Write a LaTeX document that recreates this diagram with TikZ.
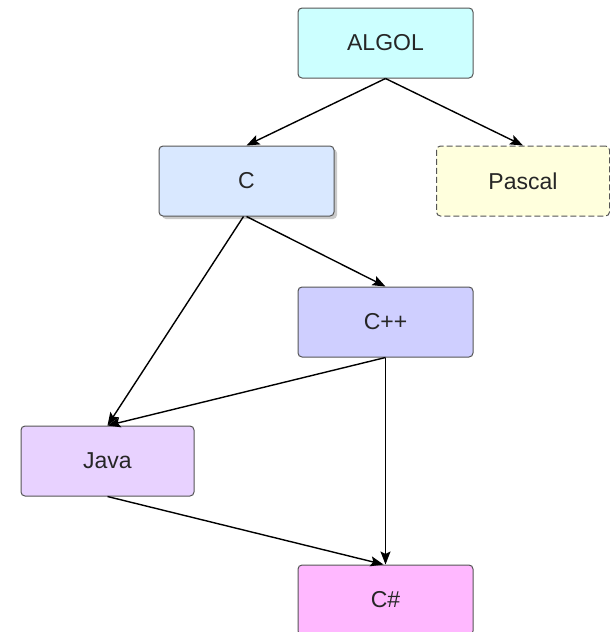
\documentclass[tikz,border=0pt]{standalone}
\usepackage{fontspec}
\setmainfont{Liberation Sans}
\usetikzlibrary{arrows.meta,shadows}
\definecolor{cAlgol}{HTML}{CCFFFF}
\definecolor{cC}{HTML}{D9E8FF}
\definecolor{cPascal}{HTML}{FFFFDD}
\definecolor{cCpp}{HTML}{CFCFFF}
\definecolor{cJava}{HTML}{E8D2FF}
\definecolor{cCs}{HTML}{FFB8FF}
\definecolor{cBorder}{HTML}{555555}
\tikzset{
  langbox/.style={draw=cBorder, line width=1pt, rounded corners=4pt,
    minimum width=175pt, minimum height=70pt, inner sep=0pt,
    font=\fontsize{23pt}{27pt}\selectfont, text=black!85},
  link/.style={line width=1.4pt, -{Stealth[length=13pt,width=10pt,inset=2.5pt]}}
}
\begin{document}
\begin{tikzpicture}[x=1pt,y=-1pt]
\useasboundingbox (0,0) rectangle (610,632);
\clip (0,0) rectangle (610,632);
\node[langbox, fill=cAlgol] (algol) at (385.5,43) {ALGOL};
\node[langbox, fill=cC, drop shadow={shadow xshift=3pt, shadow yshift=-3pt, opacity=0.35, fill=black!60}] (c) at (246.5,181) {C};
\node[langbox, fill=cPascal, dashed, dash pattern=on 6pt off 3pt, minimum width=173pt] (pascal) at (523,181) {Pascal};
\node[langbox, fill=cCpp] (cpp) at (385.5,322) {C++};
\node[langbox, fill=cJava, minimum width=173pt] (java) at (107.5,461) {Java};
\node[langbox, fill=cCs] (cs) at (385.5,600) {C\#};
\draw[link] (algol.south) -- (c.north);
\draw[link] (algol.south) -- (pascal.north);
\draw[link] ([xshift=-3pt]c.south) -- (java.north);
\draw[link] (c.south) -- (cpp.north);
\draw[link] (cpp.south) -- (java.north);
\draw[link] (cpp.south) -- (cs.north);
\draw[link] (java.south) -- ([xshift=-2pt]cs.north);
\end{tikzpicture}
\end{document}
